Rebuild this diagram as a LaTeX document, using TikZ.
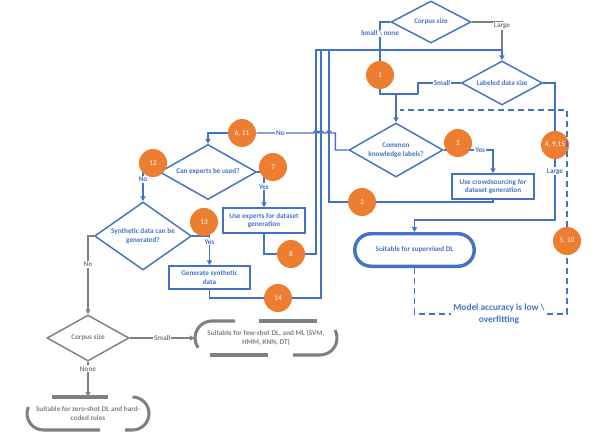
\documentclass[tikz,border=0pt]{standalone}
\usepackage{fontspec}
\setmainfont{Carlito}
\usetikzlibrary{shapes.geometric,arrows.meta,calc}
\definecolor{ublue}{HTML}{4472C4}
\definecolor{uorange}{HTML}{ED7D31}
\definecolor{ugrey}{HTML}{808080}
\begin{document}
\begin{tikzpicture}[x=0.75pt,y=-0.75pt,
  font=\bfseries\fontsize{5.4}{6.6}\selectfont,
  dia/.style={diamond, draw=ublue, line width=1.1pt, text=ublue, align=center, inner sep=-30pt},
  gdia/.style={diamond, draw=ugrey, line width=1.1pt, text=ugrey, align=center, inner sep=-30pt},
  box/.style={rectangle, draw=ublue, line width=1.1pt, text=ublue, align=center, inner sep=0pt},
  stad/.style={rectangle, draw=ublue, line width=2.6pt, rounded corners=12.2pt, text=ublue, align=center, minimum width=89.6pt, minimum height=24.4pt},
  gterm/.style={rectangle, text=ugrey, align=center, inner sep=0pt},
  gst/.style={draw=ugrey, line width=2.3pt},
  num/.style={circle, fill=uorange, text=white, inner sep=0pt, minimum size=21pt, font=\fontsize{5.5}{6}\selectfont},
  ln/.style={draw=ublue, line width=1.1pt},
  gl/.style={draw=ugrey, line width=1.1pt},
  dl/.style={draw=ublue, line width=1.2pt, dash pattern=on 4.5pt off 3pt},
  arr/.style={-{Triangle[length=3.6pt,width=3.6pt]}},
  lab/.style={fill=white, inner sep=0.8pt, text=ublue},
  glab/.style={fill=white, inner sep=0.8pt, text=ugrey},
  accst/.style={text=ublue, align=center, inner sep=1.5pt, font=\bfseries\fontsize{7}{9}\selectfont}]
\useasboundingbox (0,0) rectangle (595,442);

% main nodes
\node[dia, minimum width=60pt, minimum height=31.5pt] (cs1) at (431,22) {Corpus size};
\node[dia, minimum width=60.75pt, minimum height=33pt] (lds) at (502,83) {Labeled data size};
\node[dia, minimum width=70.5pt, minimum height=40.5pt] (ckl) at (396,150) {Common\\knowledge labels?};
\node[box, minimum width=61.5pt, minimum height=18.75pt] (crowd) at (493,186.5) {Use crowdsourcing for\\dataset generation};
\node[stad] (sup) at (414.5,250) {Suitable for supervised DL};
\node[dia, minimum width=72.75pt, minimum height=41.25pt] (cee) at (208,172) {Can experts be used?};
\node[box, minimum width=61.5pt, minimum height=18.75pt] (ue) at (264,220.5) {Use experts for dataset\\generation};
\node[dia, minimum width=72.75pt, minimum height=51pt] (syn) at (143,236) {Synthetic data can be\\generated?};
\node[box, minimum width=60.75pt, minimum height=17.25pt] (gen) at (209.5,277.5) {Generate synthetic\\data};
\node[gdia, minimum width=61.5pt, minimum height=34.5pt] (cs2) at (88,338) {Corpus size};
\node[gterm, minimum width=106.5pt, minimum height=25.5pt] (few) at (266,338) {Suitable for few-shot DL, and ML (SVM,\\HMM, KNN, DT)};
\node[gterm, minimum width=91.5pt, minimum height=24.75pt] (zero) at (88,413.5) {Suitable for zero-shot DL and hard-\\coded rules};
\node[accst] (acc) at (499,314) {Model accuracy is low \textbackslash\\overfitting};

% circles that lines end at
\node[num] (c1) at (380,75) {1};
\node[num] (c3) at (362,202) {3};
\node[num] (c4) at (555,145) {4, 9,15};
\node[num] (c5) at (567,241) {5, 10};
\node[num] (c6) at (242,133) {6, 11};
\node[num] (c8) at (291,254) {8};
\node[num] (c14) at (278,298) {14};

% junctions
\coordinate (top) at (502,50);
\coordinate (j1) at (396,94);
\coordinate (j2) at (418,94);
\coordinate (j4) at (555,220);
\coordinate (u1) at (316,50);
\coordinate (u2) at (321,50);
\coordinate (u3) at (329,50);
\coordinate (dtop) at (400,110);

% connectors
\draw[ln] (cs1.west) -| node[lab,pos=0.65]{Small \textbackslash{} none} (c1.north);
\draw[ln] (c1.south) |- (j2);
\draw[ln,arr] (j1) -- (ckl.north);
\draw[ln] (lds.west) -| node[lab,pos=0.22]{Small} (j2);
\draw[gl] (cs1.east) -| node[glab,pos=0.5,yshift=-3pt]{Large} (top);
\draw[ln,arr] (top) -- (lds.north);
\draw[ln] (c8.east) -| (u1) -- (top);
\draw[ln] (c14.east) -| (u2);
\draw[ln] (c3.west) -| (u3);
\draw[ln] (lds.east) -| (c4.north);
\draw[ln,arr] (c4.south) -- node[lab,pos=0.2]{Large} (j4) -| (sup.north);
\draw[ln,arr] (ckl.east) -| node[lab,pos=0.37]{Yes} (crowd.north);
\draw[ln] (crowd.south) |- (c3.east);
\draw[ln] (ckl.west) -- ++(-13,0) |- (331.2,133)
   arc[start angle=0,end angle=-180,radius=2.2] -- (323.2,133)
   arc[start angle=0,end angle=-180,radius=2.2] -- (318.2,133)
   arc[start angle=0,end angle=-180,radius=2.2] -- node[lab,pos=0.58]{No} (c6.east);
\draw[ln,arr] (c6.west) -| (cee.north);
\draw[ln,arr] (cee.east) -| node[lab,pos=0.71]{Yes} (ue.north);
\draw[ln] (ue.south) |- (c8.west);
\draw[ln,arr] (cee.west) -| node[lab,pos=0.63]{No} (syn.north);
\draw[ln,arr] (syn.east) -| node[lab,pos=0.6]{Yes} (gen.north);
\draw[ln] (gen.south) |- (c14.west);
\draw[gl,arr] (syn.west) -| node[glab,pos=0.68]{No} (cs2.north);
\draw[gl,arr] (cs2.east) -- node[glab]{Small} (few.west);
\draw[gl,arr] (cs2.south) -- node[glab,pos=0.2]{None} (zero.north);

% dashed feedback
\draw[dl] (sup.south) |- (acc.west);
\draw[dl] (acc.east) -| (c5.south);
\draw[dl] (c5.north) |- (dtop);

% grey broken stadium borders
\begin{scope}[shift={(few.center)}]
  \draw[gst] (-31,-17) -- (-54,-17) arc[start angle=-90,end angle=-215,radius=17];
  \draw[gst] (-7,-17) -- (51,-17);
  \draw[gst] ({54+17*cos(-28)},{17*sin(-28)}) arc[start angle=-28,end angle=90,radius=17] -- (27,17);
  \draw[gst] (2,17) -- (-56,17);
\end{scope}
\begin{scope}[shift={(zero.center)}]
  \draw[gst] (-36,-16.5) -- (20,-16.5);
  \draw[gst] (37,16.5) -- (44.5,16.5) arc[start angle=90,end angle=-90,radius=16.5];
  \draw[gst] ({-44.5+16.5*cos(203)},{16.5*sin(203)}) arc[start angle=203,end angle=90,radius=16.5] -- (12,16.5);
\end{scope}

% circles lying over lines
\node[num] (c2) at (458,143) {2};
\node[num] (c7) at (273,167) {7};
\node[num] (c12) at (153,163) {12};
\node[num] (c13) at (204,222) {13};
\end{tikzpicture}
\end{document}
